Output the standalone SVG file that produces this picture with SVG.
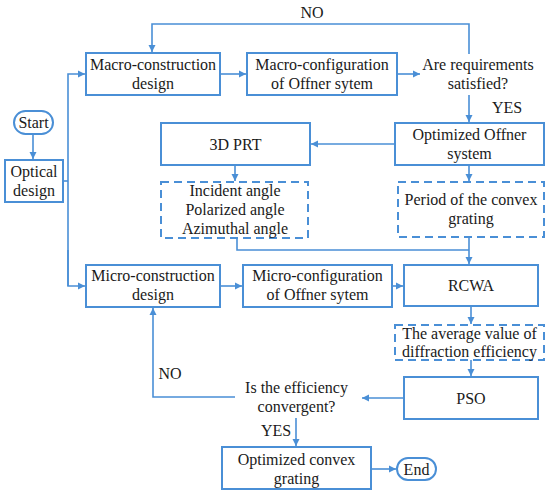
<svg xmlns="http://www.w3.org/2000/svg" width="550" height="498" viewBox="0 0 550 498">
<style>
.b{fill:#fff;stroke:#4a8fd6;stroke-width:2}
.d{fill:#fff;stroke:#4a8fd6;stroke-width:2;stroke-dasharray:8,5}
.c{fill:none;stroke:#4a8fd6;stroke-width:1.6}
</style>
<defs>
<marker id="a" markerUnits="userSpaceOnUse" markerWidth="8" markerHeight="8" refX="7" refY="4" orient="auto">
<path d="M0,0.5 L7,4 L0,7.5 Z" fill="#4a8fd6"/>
</marker>
</defs>
<g id="connectors">
<path class="c" d="M33,134 V159" marker-end="url(#a)"/>
<path class="c" d="M63,181 H68"/>
<path class="c" d="M68,286 V74 H85" marker-end="url(#a)"/>
<path class="c" d="M68,250 V286 H85" marker-end="url(#a)"/>
<path class="c" d="M220,74 H246" marker-end="url(#a)"/>
<path class="c" d="M397,74 H420" marker-end="url(#a)"/>
<path class="c" d="M469,54 V24 H152 V52" marker-end="url(#a)"/>
<path class="c" d="M469,95 V122" marker-end="url(#a)"/>
<path class="c" d="M395,144 H311" marker-end="url(#a)"/>
<path class="c" d="M235,165 V181" marker-end="url(#a)"/>
<path class="c" d="M469,165 V181" marker-end="url(#a)"/>
<path class="c" d="M237,238 V250 H469"/>
<path class="c" d="M469,237 V264" marker-end="url(#a)"/>
<path class="c" d="M220,286 H242" marker-end="url(#a)"/>
<path class="c" d="M392,286 H403" marker-end="url(#a)"/>
<path class="c" d="M471,306 V324" marker-end="url(#a)"/>
<path class="c" d="M471,360 V376" marker-end="url(#a)"/>
<path class="c" d="M404,398 H362" marker-end="url(#a)"/>
<path class="c" d="M235,397 H153 V308" marker-end="url(#a)"/>
<path class="c" d="M296,418 V446" marker-end="url(#a)"/>
<path class="c" d="M371,469 H396" marker-end="url(#a)"/>
</g>
<g font-family="Times New Roman" font-size="16" fill="#1a1a1a" text-anchor="middle">
<g id="start"><rect class="b" x="14" y="111" width="39" height="23" rx="11.5"/><text x="33.5" y="128">Start</text></g>
<g id="optical"><rect class="b" x="5" y="160" width="58" height="42"/><text x="34" y="177">Optical</text><text x="34" y="196">design</text></g>
<g id="macro-construction"><rect class="b" x="86" y="53" width="134" height="42"/><text x="153" y="70">Macro-construction</text><text x="153" y="89">design</text></g>
<g id="macro-config"><rect class="b" x="247" y="53" width="150" height="42"/><text x="322" y="70">Macro-configuration</text><text x="322" y="89">of Offner sytem</text></g>
<g id="requirements"><text x="478" y="70">Are requirements</text><text x="478" y="89">satisfied?</text></g>
<g id="label-no-top"><text x="312" y="18">NO</text></g>
<g id="label-yes-top"><text x="507" y="113">YES</text></g>
<g id="prt"><rect class="b" x="161" y="123" width="149" height="42"/><text x="235.5" y="150">3D PRT</text></g>
<g id="optimized-offner"><rect class="b" x="395" y="123" width="149" height="42"/><text x="469.5" y="140">Optimized Offner</text><text x="469.5" y="159">system</text></g>
<g id="angles"><rect class="d" x="161" y="182" width="147" height="56"/><text x="235" y="196">Incident angle</text><text x="235" y="215">Polarized angle</text><text x="235" y="234">Azimuthal angle</text></g>
<g id="period"><rect class="d" x="398" y="182" width="146" height="55"/><text x="471" y="205">Period of the convex</text><text x="471" y="224">grating</text></g>
<g id="micro-construction"><rect class="b" x="86" y="265" width="134" height="42"/><text x="153" y="281">Micro-construction</text><text x="153" y="300">design</text></g>
<g id="micro-config"><rect class="b" x="243" y="265" width="149" height="42"/><text x="317.5" y="281">Micro-configuration</text><text x="317.5" y="300">of Offner sytem</text></g>
<g id="rcwa"><rect class="b" x="404" y="265" width="134" height="41"/><text x="471" y="291">RCWA</text></g>
<g id="average"><rect class="d" x="395" y="325" width="149" height="35"/><text x="469.5" y="339">The average value of</text><text x="469.5" y="357">diffraction efficiency</text></g>
<g id="pso"><rect class="b" x="404" y="377" width="134" height="42"/><text x="471" y="404">PSO</text></g>
<g id="convergent"><text x="296.5" y="393">Is the efficiency</text><text x="296.5" y="412">convergent?</text></g>
<g id="label-no-bottom"><text x="170" y="379">NO</text></g>
<g id="label-yes-bottom"><text x="276" y="436">YES</text></g>
<g id="optimized-grating"><rect class="b" x="222" y="447" width="149" height="42"/><text x="296.5" y="465">Optimized convex</text><text x="296.5" y="484">grating</text></g>
<g id="end"><rect class="b" x="397" y="458" width="39" height="22" rx="11"/><text x="416.5" y="475">End</text></g>
</g>
</svg>
